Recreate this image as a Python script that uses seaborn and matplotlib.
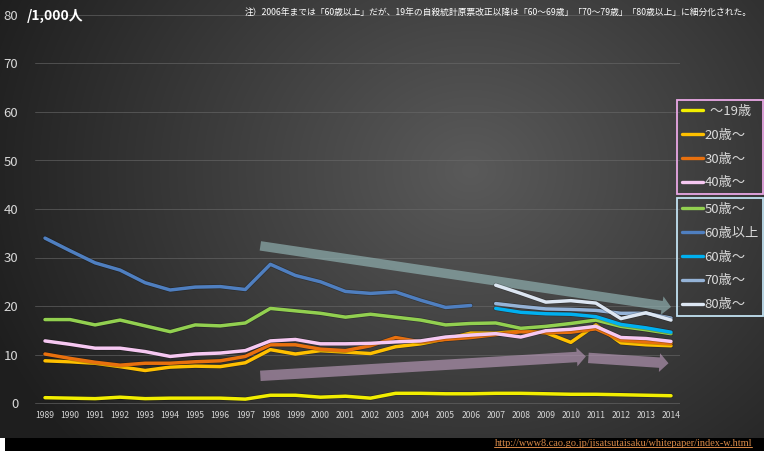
import numpy as np
import pandas as pd
import matplotlib
matplotlib.use("Agg")
import matplotlib.pyplot as plt
import matplotlib.patheffects as pe
import seaborn as sns
from matplotlib.patches import FancyArrowPatch, Rectangle
from matplotlib.lines import Line2D

# ---- data: suicide rate per 1,000 by age group ----
years_all = list(range(1989, 2015))
years_old = list(range(1989, 2007))
years_new = list(range(2007, 2015))

age_19 = [1.1, 1.0, 0.9, 1.2, 0.9, 1.0, 1.0, 1.0, 0.8, 1.6, 1.6, 1.2, 1.4,
          1.0, 2.0, 2.0, 1.9, 1.9, 2.0, 2.0, 1.9, 1.8, 1.8, 1.7, 1.6, 1.5]
age_20 = [8.7, 8.5, 8.2, 7.5, 6.7, 7.4, 7.6, 7.5, 8.3, 11.0, 10.1, 10.8, 10.5,
          10.2, 11.6, 12.2, 13.2, 14.4, 14.4, 14.8, 14.5, 12.5, 16.1, 12.4, 12.0, 11.8]
age_30 = [10.1, 9.2, 8.4, 7.8, 8.2, 8.2, 8.5, 8.7, 9.6, 12.0, 12.0, 11.1, 10.8,
          11.8, 13.5, 12.6, 13.1, 13.5, 14.1, 14.7, 14.5, 14.6, 15.3, 13.0, 12.6, 12.3]
age_40 = [12.8, 12.1, 11.3, 11.3, 10.6, 9.6, 10.1, 10.3, 10.8, 12.8, 13.1, 12.2, 12.2,
          12.3, 12.6, 12.8, 13.6, 14.0, 14.3, 13.6, 14.9, 15.2, 15.8, 13.5, 13.3, 12.7]
age_50 = [17.2, 17.2, 16.1, 17.1, 15.9, 14.7, 16.1, 15.9, 16.5, 19.5, 19.0, 18.5, 17.7,
          18.3, 17.7, 17.1, 16.1, 16.4, 16.5, 15.4, 15.8, 16.4, 17.1, 15.8, 15.1, 14.3]
age_60_plus = [34.0, 31.4, 28.9, 27.4, 24.8, 23.3, 23.9, 24.0, 23.4, 28.6, 26.3, 25.0,
               23.0, 22.6, 22.9, 21.2, 19.7, 20.1]
age_60s = [19.5, 18.7, 18.4, 18.3, 17.8, 16.2, 15.5, 14.6]
age_70s = [20.5, 19.9, 19.4, 19.3, 19.1, 18.5, 18.5, 17.5]
age_80s = [24.3, 22.6, 20.8, 21.1, 20.6, 17.4, 18.6, 17.1]

groups = ["～19歳", "20歳～", "30歳～", "40歳～", "50歳～",
          "60歳以上", "60歳～", "70歳～", "80歳～"]
legend_labels = ["  ～19歳", "20歳～", "30歳～", "40歳～", "50歳～",
                 "60歳以上", "60歳～", "70歳～", "80歳～"]
colors = ["#f2ee00", "#ffc000", "#e8700e", "#f6c8f2", "#92d050",
          "#4f7fc0", "#00b0f0", "#95b3d7", "#dce6f2"]
series = [(years_all, age_19), (years_all, age_20), (years_all, age_30),
          (years_all, age_40), (years_all, age_50), (years_old, age_60_plus),
          (years_new, age_60s), (years_new, age_70s), (years_new, age_80s)]

y_ticks = [0, 10, 20, 30, 40, 50, 60, 70, 80]

# trend arrows: (start year, start value, end year, end value)
trend_down = (1997.6, 32.4, 2014.0, 19.8)
trend_up_1 = (1997.6, 5.6, 2010.6, 9.6)
trend_up_2 = (2010.7, 9.3, 2013.9, 8.2)

note_text = ("注）2006年までは「60歳以上」だが、19年の自殺統計原票改正以降は"
             "「60～69歳」「70～79歳」「80歳以上」に細分化された。")
unit_text = "/1,000人"
source_url = "http://www8.cao.go.jp/jisatsutaisaku/whitepaper/index-w.html"

rows = []
for g, (xs, vs) in zip(groups, series):
    for x, v in zip(xs, vs):
        rows.append({"year": x, "rate": v, "group": g})
df = pd.DataFrame(rows)

# ---- style ----
sns.set_theme(style="dark")
plt.rcParams["font.family"] = ["Noto Sans CJK JP", "DejaVu Sans"]

W, H = 764, 451
fig = plt.figure(figsize=(W / 100, H / 100), dpi=100)

# radial dark-grey background
bg = fig.add_axes([0, 0, 1, 1], zorder=-10)
yy, xx = np.mgrid[0:H, 0:W]
dist = np.sqrt(((xx - 470) / 1.0) ** 2 + ((yy - 170) / 0.85) ** 2)
val = np.clip(90 - dist / 500 * 58, 30, 95) / 255.0
bg.imshow(np.dstack([val, val, val]), aspect="auto", extent=[0, W, H, 0])
bg.set_xlim(0, W)
bg.set_ylim(H, 0)
bg.axis("off")
bg.add_patch(Rectangle((5, 438), W - 5, 13, facecolor="black", edgecolor="none"))
bg.add_patch(Rectangle((0, 438), 5, 13, facecolor="white", edgecolor="none"))

# main axes
px_per_unit = 4.85
ax_left, ax_right = 35, 680
ax_top = 15
ax_bottom = 408
ax = fig.add_axes([ax_left / W, 1 - ax_bottom / H,
                   (ax_right - ax_left) / W, (ax_bottom - ax_top) / H])
ax.set_facecolor("none")

yr_px = 25.04
x0 = 1989 - 10 / yr_px
ax.set_xlim(x0, x0 + (ax_right - ax_left) / yr_px)
ax.set_ylim(-(ax_bottom - 403) / px_per_unit, 80)

ax.grid(axis="y", color="#6a6a6a", linewidth=0.7, alpha=0.6)
ax.grid(axis="x", visible=False)
for s in ax.spines.values():
    s.set_visible(False)

for (xa, ya, xb, yb), fc in [(trend_down, "#94b6b6"),
                             (trend_up_1, "#b899b8"),
                             (trend_up_2, "#b899b8")]:
    tail = 0.68 if fc == "#94b6b6" else 0.75
    arr = FancyArrowPatch((xa, ya), (xb, yb),
                          arrowstyle=f"simple,head_length=0.65,head_width=1.35,tail_width={tail}",
                          mutation_scale=10, shrinkA=0, shrinkB=0,
                          facecolor=fc, edgecolor="none", alpha=0.65, zorder=1.5)
    ax.add_patch(arr)

sns.lineplot(data=df, x="year", y="rate", hue="group", hue_order=groups,
             palette=colors, linewidth=2.5, errorbar=None, legend=False,
             ax=ax, zorder=3)
for ln in ax.lines:
    ln.set_path_effects([pe.Stroke(linewidth=3.5, foreground=(0, 0, 0, 0.25)),
                         pe.Normal()])
    ln.set_solid_joinstyle("round")

ax.set_xticks(years_all)
ax.set_xticklabels([str(y) for y in years_all], fontsize=6.2, color="#d4d4d4")
ax.set_yticks(y_ticks)
ax.set_yticklabels([str(t) for t in y_ticks], fontsize=9.5, color="#d8d8d8")
ax.tick_params(axis="x", length=0, pad=2)
ax.tick_params(axis="y", length=0, pad=12)
ax.set_xlabel("")
ax.set_ylabel("")

# header texts
fig.text(27 / W, 1 - 16 / H, unit_text, fontsize=10, fontweight="bold",
         color="white", va="center", ha="left")
fig.text(752 / W, 1 - 12 / H, note_text, fontsize=6.3, color="white",
         va="center", ha="right")

# legends in two framed groups
handles = [Line2D([0], [0], color=c, linewidth=2.4) for c in colors]
leg_kw = dict(loc="upper left", mode="expand", borderaxespad=0, fontsize=9.5,
              labelcolor="#dadada", handlelength=1.6, handletextpad=0.1,
              labelspacing=0.82, borderpad=0.38, fancybox=False, framealpha=1)
leg1 = fig.legend(handles[:4], legend_labels[:4],
                  bbox_to_anchor=(677 / W, 1 - 195 / H, 86 / W, 95 / H), **leg_kw)
leg1.get_frame().set_facecolor("none")
leg1.get_frame().set_edgecolor("#eaa8e6")
leg1.get_frame().set_linewidth(1.3)
leg2 = fig.legend(handles[4:], legend_labels[4:],
                  bbox_to_anchor=(677 / W, 1 - 317 / H, 86 / W, 119 / H), **leg_kw)
leg2.get_frame().set_facecolor("none")
leg2.get_frame().set_edgecolor("#c2e2f2")
leg2.get_frame().set_linewidth(1.3)

# source link
url = fig.text(752 / W, 1 - 443 / H, source_url, fontsize=7.4, color="#d98a48",
               family="Liberation Serif", va="center", ha="right")
fig.canvas.draw()
bb = url.get_window_extent()
fig.add_artist(Line2D([bb.x0 / W, bb.x1 / W], [(bb.y0 + 0.5) / H, (bb.y0 + 0.5) / H],
                      color="#d98a48", linewidth=0.7, transform=fig.transFigure))

fig.savefig("out.png", dpi=100)
